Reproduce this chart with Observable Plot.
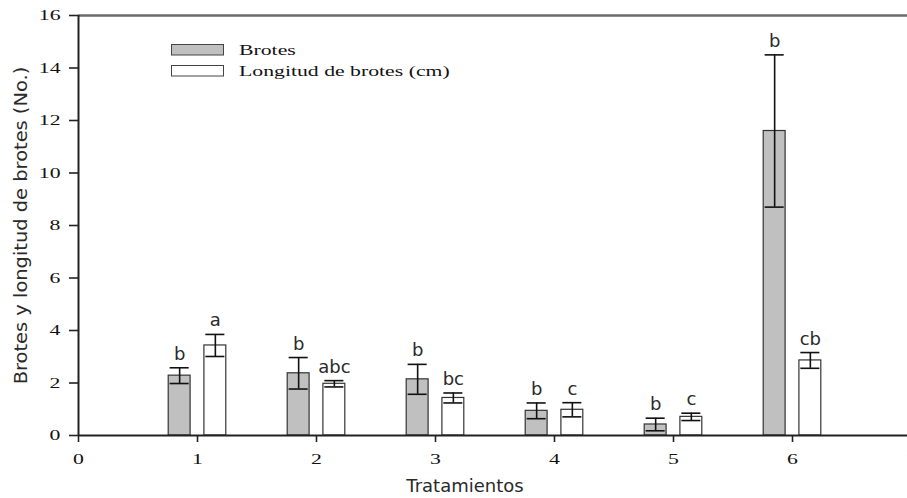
<!DOCTYPE html>
<html>
<head>
<meta charset="utf-8">
<script src="https://cdn.jsdelivr.net/npm/d3@7"></script>
<script src="https://cdn.jsdelivr.net/npm/@observablehq/plot@0.6"></script>
<style>
html, body { margin: 0; padding: 0; background: #fff; }
#wrap { position: relative; width: 907px; height: 498px; overflow: hidden; }
#legend { position: absolute; left: 0; top: 0; pointer-events: none; }
</style>
</head>
<body>
<div id="wrap"></div>
<script>
// ---- data ----
const treatments = [1, 2, 3, 4, 5, 6];
const brotes = [2.28, 2.37, 2.14, 0.94, 0.42, 11.6];
const brotesErr = [0.30, 0.60, 0.57, 0.30, 0.24, 2.90];
const longitud = [3.43, 1.97, 1.43, 0.98, 0.71, 2.86];
const longitudErr = [0.42, 0.12, 0.19, 0.27, 0.14, 0.30];
const brotesLetters = ["b", "b", "b", "b", "b", "b"];
const longitudLetters = ["a", "abc", "bc", "c", "c", "cb"];
const seriesNames = ["Brotes", "Longitud de brotes (cm)"];
const xTicks = [0, 1, 2, 3, 4, 5, 6, 7];
const yTicks = [0, 2, 4, 6, 8, 10, 12, 14, 16];
const xLabel = "Tratamientos";
const yLabel = "Brotes y longitud de brotes (No.)";

// ---- layout / style constants ----
const offsets = [-0.15, 0.15];
const halfBar = 0.092;
const halfCap = 0.08;
const fills = ["#c0c0c0", "#ffffff"];
const serif = "'Liberation Serif', 'Times New Roman', serif";
const sans = "'DejaVu Sans', Verdana, sans-serif";
const stretch = 1.45;
const yLabelStretch = 1.08;

const rows = treatments.flatMap((t, i) => [
  {t, s: 0, v: brotes[i], e: brotesErr[i], l: brotesLetters[i]},
  {t, s: 1, v: longitud[i], e: longitudErr[i], l: longitudLetters[i]}
]);
const cx = d => d.t + offsets[d.s];

const barMarks = [0, 1].map(s =>
  Plot.rectY(rows.filter(d => d.s === s), {
    x1: d => cx(d) - halfBar, x2: d => cx(d) + halfBar,
    y1: 0, y2: d => d.v,
    fill: fills[s], stroke: "#333", strokeWidth: 1.2
  })
);

const chart = Plot.plot({
  width: 907,
  height: 498,
  marginLeft: 78,
  marginRight: -4,
  marginTop: 15,
  marginBottom: 63,
  style: {background: "#fff", color: "#111"},
  x: {domain: [0, 7]},
  y: {domain: [0, 16]},
  marks: [
    Plot.ruleY([16], {stroke: "#6b6b6b", strokeWidth: 2.5}),
    ...barMarks,
    Plot.ruleX(rows, {x: cx, y1: d => d.v - d.e, y2: d => d.v + d.e, stroke: "#111", strokeWidth: 1.6}),
    Plot.ruleY(rows, {y: d => d.v + d.e, x1: d => cx(d) - halfCap, x2: d => cx(d) + halfCap, stroke: "#111", strokeWidth: 1.6}),
    Plot.ruleY(rows, {y: d => d.v - d.e, x1: d => cx(d) - halfCap, x2: d => cx(d) + halfCap, stroke: "#111", strokeWidth: 1.6}),
    Plot.text(rows, {x: cx, y: d => d.v + d.e, text: d => d.l, dy: -8, lineAnchor: "bottom",
      fontSize: 18, fontFamily: sans, fill: "#2a2a2a"}),
    Plot.ruleX([0], {stroke: "#222", strokeWidth: 2}),
    Plot.ruleY([0], {stroke: "#222", strokeWidth: 2}),
    Plot.axisX({ticks: xTicks, tickSize: 7, tickPadding: 11, fontSize: 15, fontFamily: serif,
      label: null, stroke: "#222", strokeWidth: 1.6, tickFormat: d3.format("d")}),
    Plot.axisY({ticks: yTicks, tickSize: 9, tickPadding: 9, fontSize: 15, fontFamily: serif,
      label: null, stroke: "#222", strokeWidth: 1.6, tickFormat: d3.format("d")}),
    Plot.text([yLabel], {text: d => d, frameAnchor: "left", rotate: -90, dx: -57,
      textAnchor: "middle", lineAnchor: "middle",
      fontSize: 18, fontFamily: sans, fill: "#2a2a2a"}),
    Plot.text([xLabel], {text: d => d, frameAnchor: "bottom", dx: -30, dy: 56,
      textAnchor: "middle", lineAnchor: "bottom",
      fontSize: 18, fontFamily: sans, fill: "#2a2a2a"})
  ]
});

function stretchText(t, sx) {
  const tr = t.getAttribute("transform");
  if (tr) t.setAttribute("transform", tr + ` scale(${sx},1)`);
  else {
    const x = +t.getAttribute("x") || 0, y = +t.getAttribute("y") || 0;
    t.setAttribute("transform", `translate(${x},${y}) scale(${sx},1) translate(${-x},${-y})`);
  }
}
// serif, horizontally stretched tick labels, as in the original
chart.querySelectorAll('g[aria-label="x-axis tick label"] text, g[aria-label="y-axis tick label"] text')
  .forEach(t => stretchText(t, stretch));
// y title is drawn slightly elongated in the original
chart.querySelectorAll("text").forEach(t => { if (t.textContent === yLabel) stretchText(t, yLabelStretch); });

const wrap = document.getElementById("wrap");
wrap.appendChild(chart);

// ---- legend ----
const leg = d3.create("svg").attr("id", "legend").attr("width", 907).attr("height", 100);
seriesNames.forEach((name, i) => {
  const top = 44 + i * 21;
  leg.append("rect").attr("x", 171.5).attr("y", top + 0.5).attr("width", 52).attr("height", 10.5)
    .attr("fill", fills[i]).attr("stroke", "#444").attr("stroke-width", 1);
  leg.append("text").attr("transform", `translate(239,${top + 11}) scale(${stretch},1)`)
    .attr("font-family", serif).attr("font-size", 15).attr("fill", "#111").text(name);
});
wrap.appendChild(leg.node());
</script>
</body>
</html>
